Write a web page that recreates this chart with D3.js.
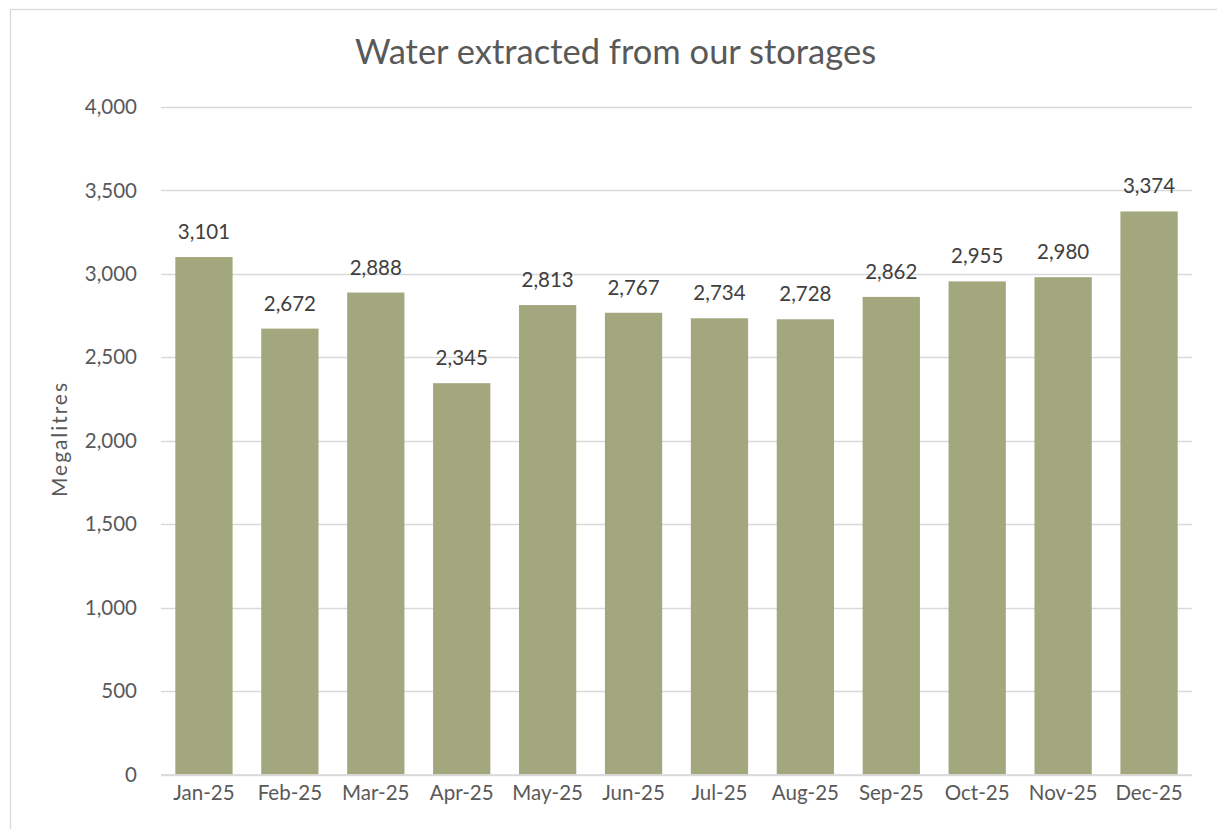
<!DOCTYPE html>
<html><head><meta charset="utf-8">
<script src="https://cdn.jsdelivr.net/npm/d3@7/dist/d3.min.js"></script>
<style>body{margin:0;background:#fff}svg{display:block}</style>
</head><body>
<script>
const categories = ["Jan-25","Feb-25","Mar-25","Apr-25","May-25","Jun-25","Jul-25","Aug-25","Sep-25","Oct-25","Nov-25","Dec-25"];
const values = [3101,2672,2888,2345,2813,2767,2734,2728,2862,2955,2980,3374];
const yTicks = [0,500,1000,1500,2000,2500,3000,3500,4000];
const title = "Water extracted from our storages";
const yTitle = "Megalitres";

(function(){
const W = 1217, H = 829;
const font = "Lato, 'Open Sans', sans-serif";
const textCol = "#595959";
const svg = d3.select("body").append("svg").attr("width", W).attr("height", H);

svg.append("rect").attr("x", 10.5).attr("y", 9.5).attr("width", 1214).attr("height", 840)
  .attr("fill", "#fff").attr("stroke", "#d9d9d9").attr("stroke-width", 1.3);

const pL = 161, pR = 1192, pT = 107, pB = 774.5;
const x = d3.scaleBand().domain(categories).range([pL, pR]).paddingInner(1/3).paddingOuter(1/6);
const y = d3.scaleLinear().domain([0, 4000]).range([pB, pT]);

svg.append("g").selectAll("line").data(yTicks).join("line")
  .attr("x1", pL).attr("x2", pR)
  .attr("y1", d => Math.round(y(d)) + 0.5).attr("y2", d => Math.round(y(d)) + 0.5)
  .attr("stroke", "#d9d9d9").attr("stroke-width", 1.3);

const yAxis = svg.append("g").attr("transform", `translate(${pL},0)`)
  .call(d3.axisLeft(y).tickValues(yTicks).tickFormat(d3.format(",")).tickSize(0).tickPadding(24));
yAxis.select(".domain").remove();
yAxis.selectAll("text").attr("fill", textCol).style("font-family", font).style("font-size", "20.5px");

svg.append("g").selectAll("rect").data(values).join("rect")
  .attr("x", (d, i) => x(categories[i])).attr("width", x.bandwidth())
  .attr("y", d => y(d)).attr("height", d => y(0) - y(d))
  .attr("fill", "#a3a77e");

svg.append("line").attr("x1", pL).attr("x2", pR).attr("y1", pB + 0.5).attr("y2", pB + 0.5)
  .attr("stroke", "#d9d9d9").attr("stroke-width", 1.5);

const xAxis = svg.append("g").attr("transform", `translate(0,${pB})`)
  .call(d3.axisBottom(x).tickSize(0).tickPadding(11));
xAxis.select(".domain").remove();
xAxis.selectAll("text").attr("fill", textCol).style("font-family", font).style("font-size", "20.5px");

svg.append("g").selectAll("text").data(values).join("text")
  .attr("x", (d, i) => x(categories[i]) + x.bandwidth() / 2)
  .attr("y", d => y(d) - 18)
  .attr("text-anchor", "middle").attr("fill", "#404040")
  .style("font-family", font).style("font-size", "20.5px")
  .text(d => d3.format(",")(d));

svg.append("text").attr("x", 615.5).attr("y", 64).attr("text-anchor", "middle")
  .attr("fill", textCol).style("font-family", font).style("font-size", "34.5px")
  .text(title);

svg.append("text").attr("transform", `translate(67,440) rotate(-90)`).attr("text-anchor", "middle")
  .attr("fill", textCol).style("font-family", font).style("font-size", "21px")
  .attr("textLength", 114).attr("lengthAdjust", "spacing")
  .text(yTitle);
})();
</script>
</body></html>
